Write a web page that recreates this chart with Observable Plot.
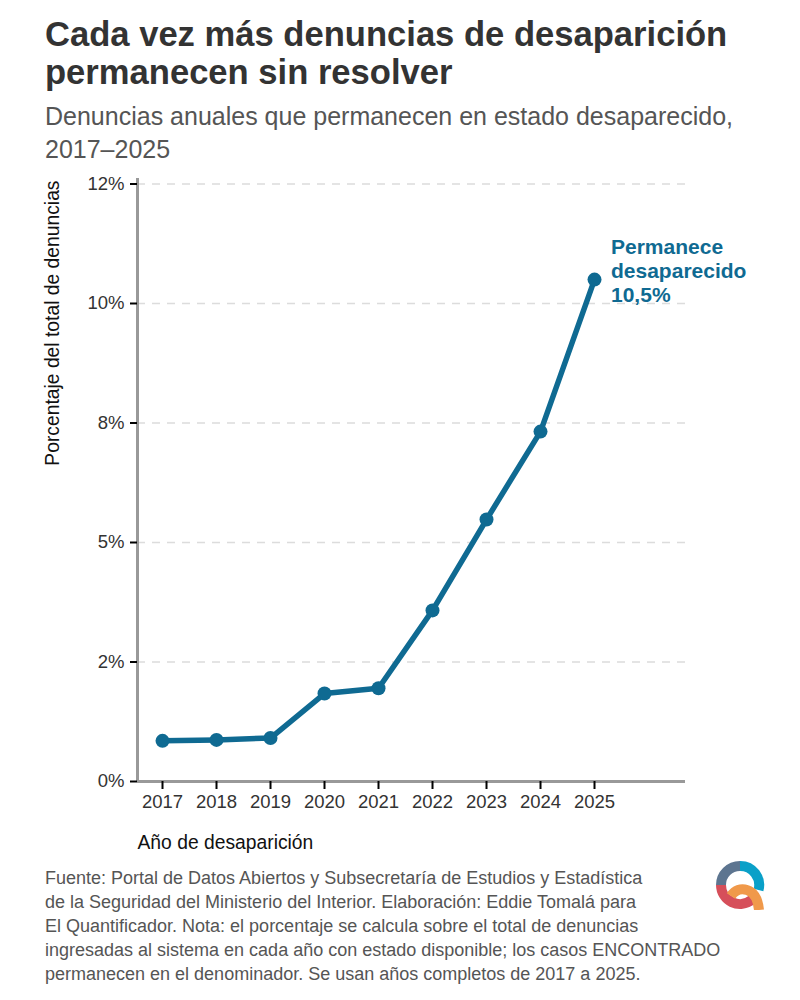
<!DOCTYPE html>
<html lang="es">
<head>
<meta charset="utf-8">
<script src="https://cdn.jsdelivr.net/npm/d3@7"></script>
<script src="https://cdn.jsdelivr.net/npm/@observablehq/plot@0.6"></script>
<style>
  html, body { margin: 0; padding: 0; background: #fff; }
  body { width: 800px; height: 1000px; position: relative; overflow: hidden; font-family: "Liberation Sans", Arial, sans-serif; }
  .t { position: absolute; left: 45px; white-space: nowrap; margin: 0; }
  #title { top: 15px; font-size: 34.6px; line-height: 38px; font-weight: 700; color: #333; }
  #subtitle { top: 100px; font-size: 25px; line-height: 33px; font-weight: 400; color: #555; }
  #caption { top: 866px; font-size: 18px; line-height: 24px; color: #555; }
  #chart { position: absolute; left: 0; top: 170px; }
  #logo { position: absolute; left: 710px; top: 855px; }
</style>
</head>
<body>
<h1 class="t" id="title">Cada vez más denuncias de desaparición<br>permanecen sin resolver</h1>
<div class="t" id="subtitle">Denuncias anuales que permanecen en estado desaparecido,<br>2017–2025</div>
<div id="chart"></div>
<div class="t" id="caption">Fuente: Portal de Datos Abiertos y Subsecretaría de Estudios y Estadística<br>de la Seguridad del Ministerio del Interior. Elaboración: Eddie Tomalá para<br>El Quantificador. Nota: el porcentaje se calcula sobre el total de denuncias<br>ingresadas al sistema en cada año con estado disponible; los casos ENCONTRADO<br>permanecen en el denominador. Se usan años completos de 2017 a 2025.</div>
<svg id="logo" width="60" height="55" viewBox="0 0 60 55" fill="none" stroke-width="10">
  <path d="M11 30 A19 19 0 0 1 30 11" stroke="#5d7590"/>
  <path d="M30 11 A19 19 0 0 1 48.5 35" stroke="#0aa0c8"/>
  <path d="M11 30 A19 19 0 0 0 42 44.7" stroke="#d64f5a"/>
  <path d="M21 41 C25 35 31 33 37 35 C44 37 48 45 49 55" stroke="#f0994a"/>
</svg>
<script>
const years = [2017, 2018, 2019, 2020, 2021, 2022, 2023, 2024, 2025];
const pctMissing = [0.85, 0.87, 0.91, 1.84, 1.95, 3.58, 5.48, 7.32, 10.5];
const yTicks = [0, 2.5, 5, 7.5, 10, 12.5];
const yTickLabels = ["0%", "2%", "5%", "8%", "10%", "12%"];
const gridValues = [2.5, 5, 7.5, 10, 12.5];
const annotation = "Permanece\ndesaparecido\n10,5%";
const xTitle = "Año de desaparición";
const yTitle = "Porcentaje del total de denuncias";
const lastYear = years[years.length - 1];
const lastValue = pctMissing[pctMissing.length - 1];
const rows = years.map((year, i) => ({year, value: pctMissing[i]}));
const blue = "#0f6a92";

const plot = Plot.plot({
  width: 800,
  height: 690,
  marginTop: 8,
  marginBottom: 79,
  marginLeft: 137,
  marginRight: 115,
  style: {background: "#fff", fontFamily: "'Liberation Sans', Arial, sans-serif"},
  x: {domain: [2016.537, 2026.685]},
  y: {domain: [0, 12.615]},
  marks: [
    Plot.ruleY(gridValues, {stroke: "#dcdcdc", strokeWidth: 1.5, strokeDasharray: "8 7"}),
    Plot.ruleX([2016.537], {stroke: "#999", strokeWidth: 3}),
    Plot.ruleY([0], {stroke: "#999", strokeWidth: 3}),
    Plot.axisX({
      ticks: years, tickFormat: "d", tickSize: 8, tickPadding: 5,
      stroke: "#000", strokeWidth: 2, fontSize: 18.5, color: "#333",
      label: null
    }),
    Plot.axisY({
      ticks: yTicks, tickFormat: (d) => yTickLabels[yTicks.indexOf(d)],
      tickSize: 7, tickPadding: 6, stroke: "#000", strokeWidth: 2, fontSize: 18.5, color: "#333",
      label: null
    }),
    Plot.text([xTitle], {
      frameAnchor: "bottom-left", textAnchor: "start", lineAnchor: "middle",
      dy: 61, fontSize: 19.3, fill: "#111"
    }),
    Plot.text([yTitle], {
      frameAnchor: "top-left", textAnchor: "end", lineAnchor: "middle", rotate: -90,
      dx: -85, dy: 2, fontSize: 19.3, fill: "#111"
    }),
    Plot.line(rows, {x: "year", y: "value", stroke: blue, strokeWidth: 5.5, curve: "linear"}),
    Plot.dot(rows, {x: "year", y: "value", r: 7, fill: blue}),
    Plot.text([{year: lastYear, value: lastValue}], {
      x: "year", y: "value", text: () => annotation, dx: 16.5, dy: -9,
      textAnchor: "start", lineAnchor: "middle", lineHeight: 1.14,
      fontSize: 21, fontWeight: 700, fill: blue
    })
  ]
});
document.getElementById("chart").appendChild(plot);
</script>
</body>
</html>
